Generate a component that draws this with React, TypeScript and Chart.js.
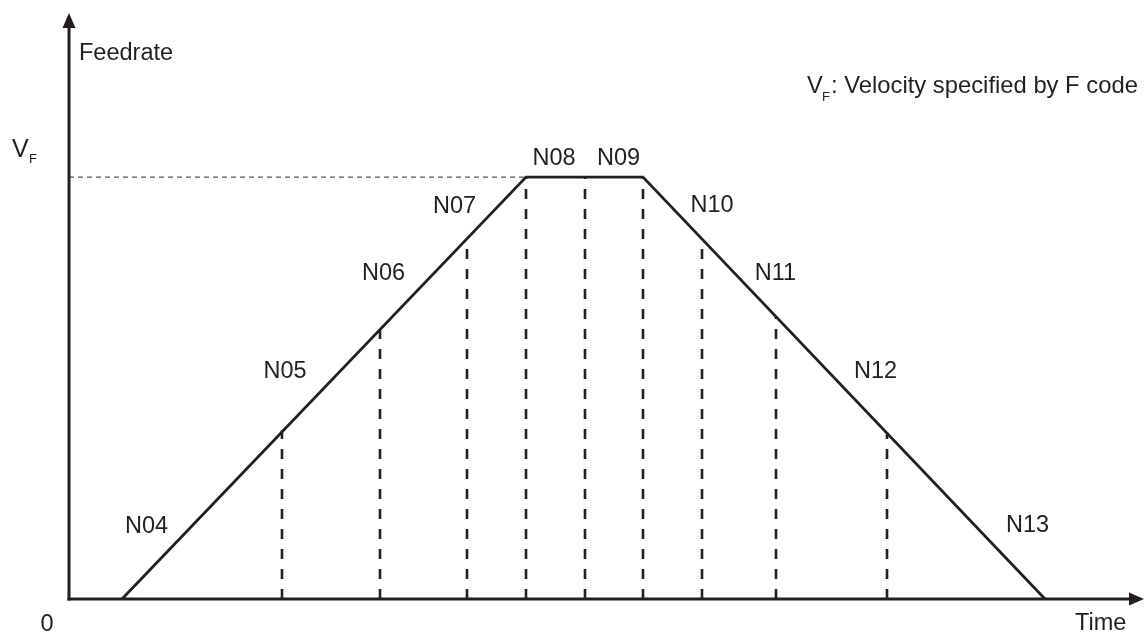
import { useEffect, useRef } from "react";
import { Chart, registerables } from "chart.js";

Chart.register(...registerables);

// Feedrate profile (time units, feedrate in % of VF)
const profileTime = [5.3, 45.7, 57.4, 97.6];
const profileFeed = [0, 100, 100, 0];

// Block boundaries (dashed verticals)
const boundaryTime = [21.3, 31.1, 39.8, 45.7, 51.6, 57.4, 63.3, 70.7, 81.8];
const boundaryFeed = [40, 64, 85, 100, 100, 100, 85, 67, 39];

// Block labels
const blockLabels = ["N04", "N05", "N06", "N07", "N08", "N09", "N10", "N11", "N12", "N13"];
const labelTime = [7.75, 21.6, 31.45, 38.55, 48.5, 54.95, 64.3, 70.65, 80.65, 95.85];
const labelFeed = [15.6, 52.3, 75.6, 91.5, 102.8, 102.8, 91.7, 75.6, 52.4, 15.9];

const VF = 100;
const timeMax = 107.5;
const feedMax = 138.9;

const INK = "#231f20";
const FONT = '"Liberation Sans", Arial, Helvetica, sans-serif';

const decorPlugin = {
  id: "decor",
  afterDatasetsDraw(chart: any) {
    const { ctx, chartArea } = chart;
    const x = chart.scales.x;
    const y = chart.scales.y;
    const x0 = x.getPixelForValue(0);
    const y0 = y.getPixelForValue(0);
    const xEnd = chartArea.right;
    const yTop = chartArea.top;
    ctx.save();
    ctx.strokeStyle = INK;
    ctx.fillStyle = INK;
    ctx.lineWidth = 3;
    ctx.lineCap = "butt";
    // y axis
    ctx.beginPath();
    ctx.moveTo(x0, y0 + 1.5);
    ctx.lineTo(x0, yTop + 12);
    ctx.stroke();
    // x axis
    ctx.beginPath();
    ctx.moveTo(x0 - 1.5, y0);
    ctx.lineTo(xEnd - 12, y0);
    ctx.stroke();
    // arrowheads
    ctx.beginPath();
    ctx.moveTo(x0, yTop);
    ctx.lineTo(x0 - 6.5, yTop + 15);
    ctx.lineTo(x0 + 6.5, yTop + 15);
    ctx.closePath();
    ctx.fill();
    ctx.beginPath();
    ctx.moveTo(xEnd, y0);
    ctx.lineTo(xEnd - 15, y0 - 6.5);
    ctx.lineTo(xEnd - 15, y0 + 6.5);
    ctx.closePath();
    ctx.fill();

    // texts
    ctx.textBaseline = "alphabetic";
    ctx.font = `23.5px ${FONT}`;
    ctx.textAlign = "center";
    blockLabels.forEach((lab, i) => {
      ctx.fillText(lab, x.getPixelForValue(labelTime[i]), y.getPixelForValue(labelFeed[i]));
    });
    ctx.textAlign = "left";
    ctx.fillText("Feedrate", x0 + 10, yTop + 47);
    ctx.fillText("Time", xEnd - 69, y0 + 31);
    ctx.textAlign = "center";
    ctx.fillText("0", x0 - 22, y0 + 32);

    // V_F at the y axis
    const yVF = y.getPixelForValue(VF);
    ctx.textAlign = "left";
    ctx.font = `25px ${FONT}`;
    ctx.fillText("V", 12, yVF - 20);
    ctx.font = `13px ${FONT}`;
    ctx.fillText("F", 29, yVF - 14);

    // legend note
    ctx.font = `23.5px ${FONT}`;
    ctx.fillText("V", 807, 93);
    ctx.font = `13px ${FONT}`;
    ctx.fillText("F", 822, 101);
    ctx.font = `23.8px ${FONT}`;
    ctx.fillText(": Velocity specified by F code", 831, 93);
    ctx.restore();
  },
};

export default function App() {
  const ref = useRef<HTMLCanvasElement | null>(null);
  useEffect(() => {
    if (!ref.current) return;
    const boundarySets = boundaryTime.map((t, i) => ({
      data: [
        { x: t, y: 0 },
        { x: t, y: boundaryFeed[i] },
      ],
      borderColor: INK,
      borderWidth: 2.6,
      borderDash: [10, 10],
      pointRadius: 0,
      showLine: true,
      clip: false as any,
    }));
    const chart = new Chart(ref.current, {
      type: "scatter",
      data: {
        datasets: [
          {
            data: [
              { x: 0, y: VF },
              { x: profileTime[1], y: VF },
            ],
            borderColor: "#555",
            borderWidth: 1.2,
            borderDash: [5, 4],
            pointRadius: 0,
            showLine: true,
            clip: false as any,
          },
          ...boundarySets,
          {
            data: profileTime.map((t, i) => ({ x: t, y: profileFeed[i] })),
            borderColor: INK,
            borderWidth: 2.8,
            pointRadius: 0,
            showLine: true,
            clip: false as any,
          },
        ],
      },
      options: {
        animation: false,
        responsive: true,
        maintainAspectRatio: false,
        layout: { padding: { left: 69, right: 4, top: 13, bottom: 36 } },
        plugins: { legend: { display: false }, tooltip: { enabled: false } },
        events: [],
        scales: {
          x: { type: "linear", min: 0, max: timeMax, display: false },
          y: { type: "linear", min: 0, max: feedMax, display: false },
        },
      },
      plugins: [decorPlugin],
    });
    return () => chart.destroy();
  }, []);
  return (
    <div style={{ position: "fixed", left: 0, top: 0, width: 1148, height: 635, background: "#fff" }}>
      <canvas ref={ref} />
    </div>
  );
}
